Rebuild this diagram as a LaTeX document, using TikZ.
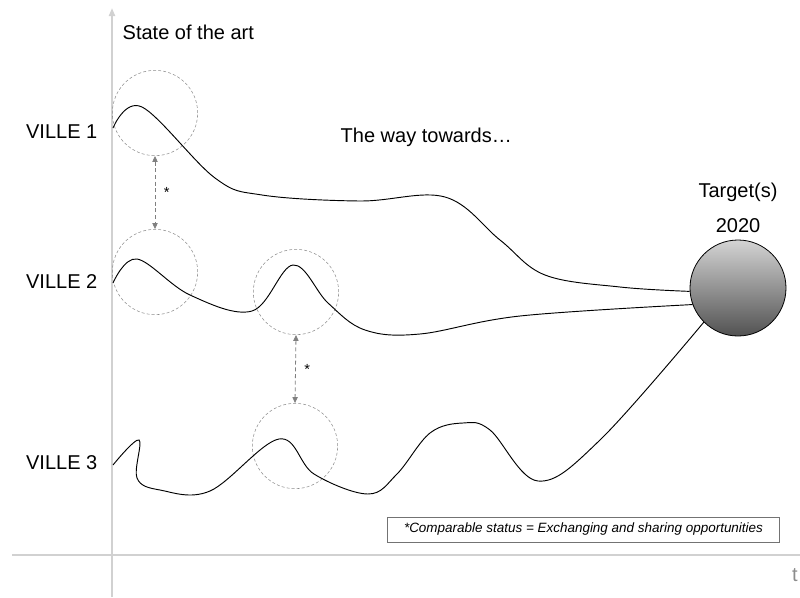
\documentclass[tikz,border=0pt]{standalone}
\usepackage{fontspec}
\setmainfont{Liberation Sans}
\usetikzlibrary{arrows.meta,positioning}

\begin{document}
\begin{tikzpicture}[
  x=0.75pt, y=-0.75pt,
  font=\fontsize{15}{18}\selectfont,
  axis/.style={draw=black!18, line width=1.5pt},
  zone/.style={draw=black!45, dashed, dash pattern=on 2.2pt off 1.6pt, circle, minimum size=64pt, inner sep=0pt},
  link/.style={{Triangle[length=4.5pt,width=4pt]}-{Triangle[length=4.5pt,width=4pt]}, draw=black!50, dashed, dash pattern=on 3pt off 2pt, line width=0.6pt},
  path/.style={draw=black, line width=0.7pt, smooth, tension=0.6},
  star/.style={font=\fontsize{11}{12}\selectfont},
  target/.style={circle, draw=black, line width=0.6pt, minimum size=72pt, inner sep=0pt, top color=black!17, bottom color=black!68}
]
\useasboundingbox (0,0) rectangle (800,597);

% Axes
\draw[axis] (12,555) -- (800,555);
\draw[axis, -{Triangle[length=6pt,width=4.5pt]}] (112,597) -- (112,8);
\node[text=black!45] (t) at (795,575) {t};
\node[anchor=west] (state) at (118,32) {State of the art};

% Cities
\node[anchor=east] (v1) at (102,132) {VILLE 1};
\node[anchor=east] (v2) at (102,282) {VILLE 2};
\node[anchor=east] (v3) at (102,463) {VILLE 3};
\node[anchor=west] (way) at (336,137) {The way towards\ldots};

% Target
\node[target] (goal) at (738,288) {};
\node[above=2pt of goal] (year) {2020};
\node[above=5pt of year] (tgt) {Target(s)};

% Comparable zones
\node[zone] (z1) at (155,113) {};
\node[zone] (z2) at (155,272) {};
\node[zone] (z3) at (296,292) {};
\node[zone] (z4) at (295,446) {};

\draw[link] (z1.south) -- node[star, right=3pt] {*} (z2.north);
\draw[link] (z3.south) -- node[star, right=3pt] {*} (z4.north);

% Trajectories
\draw[path] plot coordinates {(113,128) (142,107) (215,178) (262,195) (360,201) (445,197) (500,240) (545,275) (620,287) (goal.184)};
\draw[path] plot coordinates {(113,283) (137,259) (190,295) (252,311) (293,265) (328,303) (365,330) (420,334) (520,316) (goal.200)};
\draw[path] plot coordinates {(113,465) (139,440) (137,478) (160,490) (210,491) (279,439) (314,474) (368,494) (397,474) (430,433) (463,423) (490,430) (538,481) (600,440) (goal.225)};

% Note
\node[draw=black!55, line width=0.5pt, minimum width=294pt, minimum height=18.5pt, font=\fontsize{10.1}{12}\selectfont\itshape] (note) at (583.5,529.5) {*Comparable status = Exchanging and sharing opportunities};

\end{tikzpicture}
\end{document}
